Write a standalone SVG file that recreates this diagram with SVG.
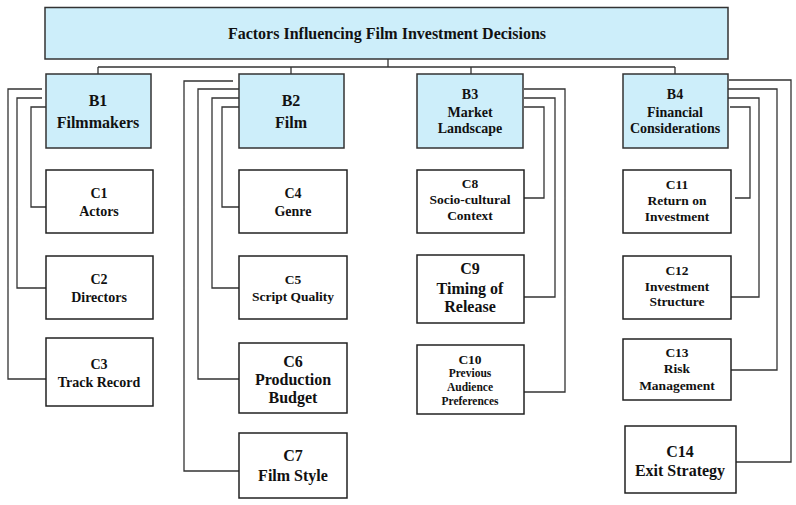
<svg xmlns="http://www.w3.org/2000/svg" width="796" height="505" viewBox="0 0 796 505" font-family="'Liberation Serif', 'Times New Roman', 'DejaVu Serif', serif">
<style>
.b{fill:#cdeefa;stroke:#333;stroke-width:1.5}
.c{fill:#fff;stroke:#222;stroke-width:1.5}
text{font-family:'Liberation Serif','Times New Roman','DejaVu Serif',serif;font-weight:bold;fill:#111;text-anchor:middle;dominant-baseline:central}
#conn path{fill:none;stroke:#333;stroke-width:1.3}
</style>
<rect width="796" height="505" fill="#fff"/>
<g id="conn">
<path d="M388 59V67M98 67H675M98 67V74M291 67V74M471 67V74M675 67V74"/>
<path d="M42 89H8V379H46M42 98H17V288H46M46 107H31V207H46"/>
<path d="M233 81H184V471H239M239 89H198V379H239M239 98H212V288H239M239 107H222V207H239"/>
<path d="M524 89H565V392H524M524 98H555V297H524M524 107H544V198H524"/>
<path d="M729 80H791V462H736M726 89H777V370H731M726 98H759V297H731M730 107H750V198H735"/>
</g>
<g id="A"><rect class="b" x="45" y="7.5" width="683" height="51.5"/><text x="387" y="33" font-size="16">Factors Influencing Film Investment Decisions</text></g>
<g id="B1"><rect class="b" x="46" y="74" width="105" height="74"/><text x="98" y="100" font-size="16">B1</text><text x="98" y="122" font-size="16">Filmmakers</text></g>
<g id="B2"><rect class="b" x="239" y="74" width="105" height="74"/><text x="291" y="100" font-size="16">B2</text><text x="291" y="122" font-size="16">Film</text></g>
<g id="B3"><rect class="b" x="417" y="74" width="106" height="74"/><text x="470" y="94" font-size="14">B3</text><text x="470" y="112" font-size="14">Market</text><text x="470" y="128" font-size="14">Landscape</text></g>
<g id="B4"><rect class="b" x="623" y="74" width="105" height="74"/><text x="675" y="94" font-size="14">B4</text><text x="675" y="112" font-size="14">Financial</text><text x="675" y="128" font-size="14">Considerations</text></g>
<g id="C1"><rect class="c" x="46" y="170" width="107" height="63"/><text x="99" y="193" font-size="14">C1</text><text x="99" y="211" font-size="14">Actors</text></g>
<g id="C2"><rect class="c" x="46" y="256" width="107" height="63"/><text x="99" y="279" font-size="14">C2</text><text x="99" y="297" font-size="14">Directors</text></g>
<g id="C3"><rect class="c" x="46" y="338" width="107" height="68"/><text x="99" y="364" font-size="14">C3</text><text x="99" y="382" font-size="14">Track Record</text></g>
<g id="C4"><rect class="c" x="239" y="170" width="108" height="63"/><text x="293" y="193" font-size="14">C4</text><text x="293" y="211" font-size="14">Genre</text></g>
<g id="C5"><rect class="c" x="239" y="256" width="108" height="63"/><text x="293" y="279" font-size="13.5">C5</text><text x="293" y="296" font-size="13.5">Script Quality</text></g>
<g id="C6"><rect class="c" x="239" y="343" width="108" height="70"/><text x="293" y="361" font-size="16">C6</text><text x="293" y="379" font-size="16">Production</text><text x="293" y="397" font-size="16">Budget</text></g>
<g id="C7"><rect class="c" x="239" y="433" width="108" height="65"/><text x="293" y="455" font-size="16">C7</text><text x="293" y="475" font-size="16">Film Style</text></g>
<g id="C8"><rect class="c" x="417" y="170" width="107" height="63"/><text x="470" y="183" font-size="13.5">C8</text><text x="470" y="199" font-size="13.5">Socio-cultural</text><text x="470" y="215" font-size="13.5">Context</text></g>
<g id="C9"><rect class="c" x="417" y="255" width="107" height="68"/><text x="470" y="268" font-size="16">C9</text><text x="470" y="288" font-size="16">Timing of</text><text x="470" y="306" font-size="16">Release</text></g>
<g id="C10"><rect class="c" x="417" y="345" width="107" height="69"/><text x="470" y="359" font-size="13.5">C10</text><text x="470" y="373" font-size="11.5">Previous</text><text x="470" y="387" font-size="11.5">Audience</text><text x="470" y="401" font-size="11.5">Preferences</text></g>
<g id="C11"><rect class="c" x="623" y="170" width="108" height="63"/><text x="677" y="184" font-size="13.5">C11</text><text x="677" y="200" font-size="13.5">Return on</text><text x="677" y="216" font-size="13.5">Investment</text></g>
<g id="C12"><rect class="c" x="623" y="256" width="108" height="63"/><text x="677" y="270" font-size="13.5">C12</text><text x="677" y="286" font-size="13.5">Investment</text><text x="677" y="301" font-size="13.5">Structure</text></g>
<g id="C13"><rect class="c" x="623" y="339" width="108" height="61"/><text x="677" y="352" font-size="13.5">C13</text><text x="677" y="368" font-size="13.5">Risk</text><text x="677" y="385" font-size="13.5">Management</text></g>
<g id="C14"><rect class="c" x="625" y="426" width="111" height="67"/><text x="680" y="451" font-size="16">C14</text><text x="680" y="470" font-size="16">Exit Strategy</text></g>
</svg>
